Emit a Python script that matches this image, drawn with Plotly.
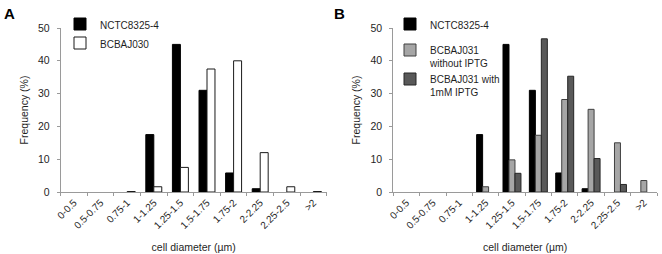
import plotly.graph_objects as go

categories = ["0-0.5", "0.5-0.75", "0.75-1", "1-1.25", "1.25-1.5", "1.5-1.75",
              "1.75-2", "2-2.25", "2.25-2.5", ">2"]
nctc = [0, 0, 0, 17.5, 45, 31, 5.8, 1, 0, 0]
bcbaj030 = [0, 0, 0.15, 1.6, 7.5, 37.5, 40, 12, 1.6, 0.15]
bcbaj031_no = [0, 0, 0, 1.6, 9.8, 17.3, 28.2, 25.2, 15, 3.5]
bcbaj031_iptg = [0, 0, 0, 0, 5.7, 46.7, 35.3, 10.2, 2.3, 0]

FONT = "Liberation Sans, Arial, sans-serif"
TXT = "#1f1f1f"
AX = "#9a9a9a"


def shown(values):
    # empty bins are not drawn as bars
    return [v if v != 0 else None for v in values]


fig = go.Figure()

# Panel A
fig.add_trace(go.Bar(x=categories, y=shown(nctc), name="NCTC8325-4",
                     marker=dict(color="#000000", line=dict(color="#000000", width=1)),
                     width=0.3, offset=-0.3, xaxis="x", yaxis="y", legend="legend"))
fig.add_trace(go.Bar(x=categories, y=shown(bcbaj030), name="BCBAJ030",
                     marker=dict(color="#ffffff", line=dict(color="#1a1a1a", width=1)),
                     width=0.3, offset=0.0, xaxis="x", yaxis="y", legend="legend"))

# Panel B
fig.add_trace(go.Bar(x=categories, y=shown(nctc), name="NCTC8325-4",
                     marker=dict(color="#000000", line=dict(color="#000000", width=1)),
                     width=0.227, offset=-0.34, xaxis="x2", yaxis="y2", legend="legend2",
                     legendgroup="g1"))
fig.add_trace(go.Bar(x=categories, y=shown(bcbaj031_no), name="BCBAJ031<br>without IPTG",
                     marker=dict(color="#a6a6a6", line=dict(color="#404040", width=1)),
                     width=0.227, offset=-0.113, xaxis="x2", yaxis="y2", legend="legend2",
                     legendgroup="g2"))
fig.add_trace(go.Bar(x=categories, y=shown(bcbaj031_iptg), name="BCBAJ031 with<br>1mM IPTG",
                     marker=dict(color="#595959", line=dict(color="#262626", width=1)),
                     width=0.227, offset=0.114, xaxis="x2", yaxis="y2", legend="legend2",
                     legendgroup="g2"))

W, H = 662, 254
y0, y1 = (H - 192) / H, (H - 28) / H

xcommon = dict(type="category", tickangle=-45, showline=True, linecolor=AX, linewidth=1,
               ticks="outside", ticklen=3, tickcolor=AX, showgrid=False, automargin=False,
               tickfont=dict(size=10, color=TXT, family=FONT), tickson="boundaries",
               range=[-0.5, 9.5],
               title=dict(text="cell diameter (µm)", font=dict(size=10.5, color=TXT, family=FONT),
                          standoff=13),
               fixedrange=True)
ycommon = dict(range=[0, 50], dtick=10, showline=True, linecolor=AX, linewidth=1,
               ticks="outside", ticklen=3, tickcolor=AX, showgrid=False, zeroline=False,
               automargin=False, fixedrange=True, ticklabelstandoff=5,
               tickfont=dict(size=10.5, color=TXT, family=FONT),
               title=dict(text="Frequency (%)", font=dict(size=10.5, color=TXT, family=FONT),
                          standoff=7))

fig.update_layout(
    width=W, height=H,
    margin=dict(l=0, r=0, t=0, b=0),
    paper_bgcolor="white", plot_bgcolor="white",
    barmode="overlay",
    font=dict(family=FONT, color=TXT),
    xaxis=dict(xcommon, domain=[60.7 / W, 326.7 / W], anchor="y"),
    yaxis=dict(ycommon, domain=[y0, y1], anchor="x"),
    xaxis2=dict(xcommon, domain=[393.3 / W, 657 / W], anchor="y2"),
    yaxis2=dict(ycommon, domain=[y0, y1], anchor="x2"),
    legend=dict(x=60 / W, y=1 - 11 / H, xanchor="left", yanchor="top",
                bgcolor="rgba(0,0,0,0)", font=dict(size=10, color=TXT, family=FONT),
                itemwidth=30, valign="top"),
    legend2=dict(x=390 / W, y=1 - 11 / H, xanchor="left", yanchor="top",
                 bgcolor="rgba(0,0,0,0)", font=dict(size=10, color=TXT, family=FONT),
                 itemwidth=30, valign="top", traceorder="grouped", tracegroupgap=7),
    annotations=[
        dict(text="<b>A</b>", x=0, y=1 - 3 / H, xref="paper", yref="paper",
             xanchor="left", yanchor="top", showarrow=False, xshift=2,
             font=dict(size=15, color="#000", family=FONT)),
        dict(text="<b>B</b>", x=330 / W, y=1 - 3 / H, xref="paper", yref="paper",
             xanchor="left", yanchor="top", showarrow=False, xshift=2,
             font=dict(size=15, color="#000", family=FONT)),
    ],
)

fig.write_html("out.html", config={"displayModeBar": False, "staticPlot": True},
               post_script="document.body.style.margin='0';document.body.style.padding='0';")
